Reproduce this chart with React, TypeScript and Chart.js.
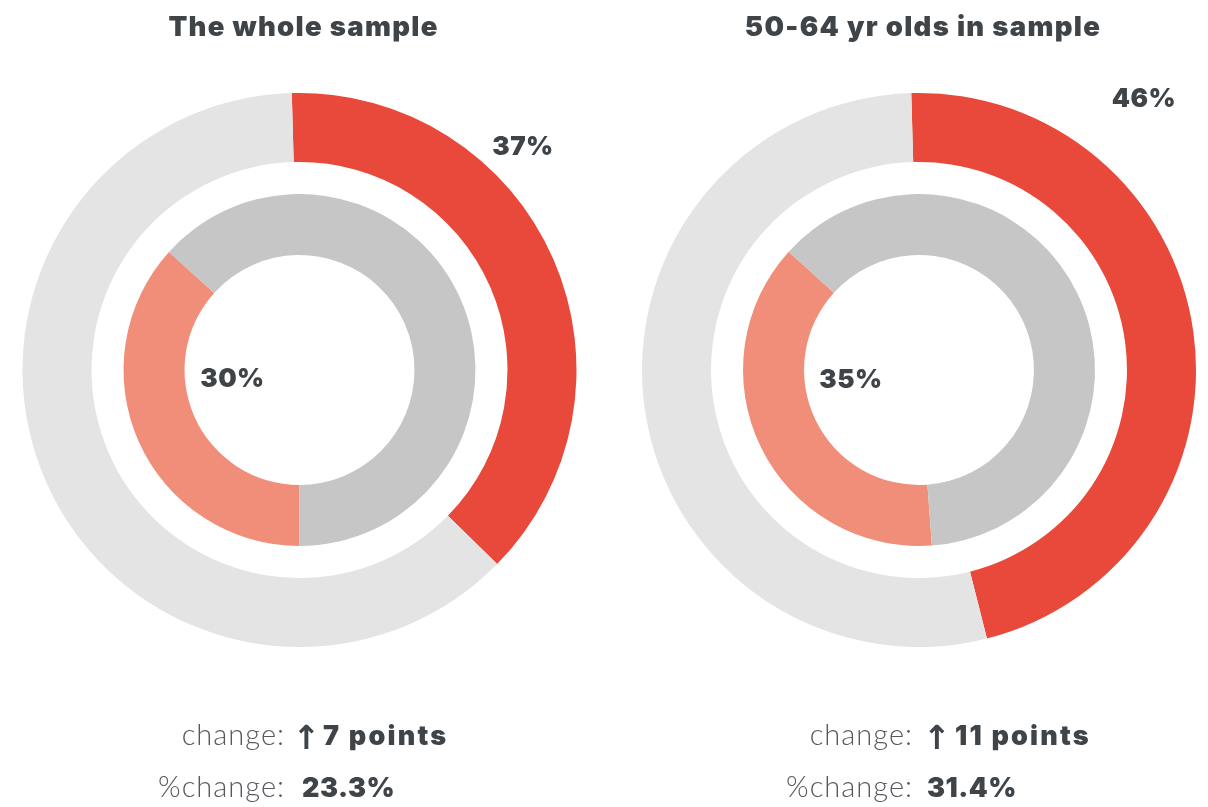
import React, { useEffect, useRef } from "react";
import { Chart, registerables } from "chart.js";

Chart.register(...registerables);

// ---- data ----
const titles = ["The whole sample", "50-64 yr olds in sample"];
const currentPct = [37, 46]; // outer ring labels
const previousPct = [30, 35]; // inner ring labels
const outerArcPct = [37.8, 46.5]; // red outer arc as drawn
const innerArcPct = [36.7, 37.9]; // salmon inner arc as drawn
const changePoints = [7, 11];
const pctChange = ["23.3%", "31.4%"];

// ---- style / layout ----
const RED = "#e8493a";
const LIGHT = "#e4e4e4";
const SALMON = "#f08e79";
const MID = "#c6c6c6";
const TEXT = "#3f4449";
const LABEL = "#55595d";
const W = 604;
const H = 807;
const centers = [299.5, 919];
const CY = 370;
const outerStart = [-1.6, -1.6];
const innerStart = [180, 175.8];
const layoutX = [
  { colon: -14.5, arrow: -7, value: 23.5, pct: 2.5, title: 4, outerLbl: [223.5, -215], innerLbl: [-67, 17] },
  { colon: -6, arrow: 4, value: 36, pct: 8, title: 4, outerLbl: [225, -263], innerLbl: [-68, 18] },
];

function makeTextPlugin(i: number) {
  return {
    id: "texts" + i,
    afterDraw(chart: any) {
      const ctx = chart.ctx as any;
      const arc = chart.getDatasetMeta(0).data[0] as any;
      const cx = arc.x;
      const cy = arc.y;
      const L = layoutX[i];
      ctx.save();
      ctx.fillStyle = TEXT;
      ctx.textBaseline = "alphabetic";
      // title
      ctx.letterSpacing = "1.3px";
      ctx.font = "900 27.5px Inter, Lato, sans-serif";
      ctx.textAlign = "center";
      ctx.fillText(titles[i], cx + L.title, 36);
      // ring labels
      ctx.letterSpacing = "0.5px";
      ctx.font = "900 26px Inter, Lato, sans-serif";
      ctx.fillText(currentPct[i] + "%", cx + L.outerLbl[0], cy + L.outerLbl[1]);
      ctx.fillText(previousPct[i] + "%", cx + L.innerLbl[0], cy + L.innerLbl[1]);
      // change rows
      ctx.textAlign = "right";
      ctx.fillStyle = LABEL;
      ctx.letterSpacing = "1px";
      ctx.font = "300 29px Lato, sans-serif";
      ctx.fillText("change:", cx + L.colon, 745);
      ctx.fillText("%change:", cx + L.colon, 797);
      ctx.textAlign = "left";
      ctx.fillStyle = TEXT;
      ctx.letterSpacing = "0px";
      ctx.font = "700 33px 'DejaVu Sans', sans-serif";
      ctx.fillText("\u2191", cx + L.arrow, 749);
      ctx.letterSpacing = "2.2px";
      ctx.font = "900 27px Inter, Lato, sans-serif";
      ctx.fillText(changePoints[i] + " points", cx + L.value, 745);
      ctx.letterSpacing = "0.5px";
      ctx.fillText(pctChange[i], cx + L.pct, 797);
      ctx.restore();
    },
  };
}

function Panel({ i }: { i: number }) {
  const ref = useRef<HTMLCanvasElement>(null);
  useEffect(() => {
    const canvas = ref.current!;
    const cx = centers[i] - i * W;
    const half = 282;
    const chart = new Chart(canvas, {
      type: "doughnut",
      data: {
        labels: ["current", "rest"],
        datasets: [
          {
            data: [outerArcPct[i], 100 - outerArcPct[i]],
            backgroundColor: [RED, LIGHT],
            rotation: outerStart[i],
            weight: 69,
            borderWidth: 0,
          } as any,
          {
            data: [1],
            backgroundColor: ["rgba(0,0,0,0)"],
            weight: 32,
            borderWidth: 0,
          } as any,
          {
            data: [innerArcPct[i], 100 - innerArcPct[i]],
            backgroundColor: [SALMON, MID],
            rotation: innerStart[i],
            weight: 61,
            borderWidth: 0,
          } as any,
        ],
      },
      options: {
        responsive: false,
        animation: false,
        radius: 277,
        cutout: "41.5%",
        events: [],
        layout: {
          padding: { left: cx - half, right: W - cx - half, top: CY - half, bottom: H - CY - half },
        },
        plugins: { legend: { display: false }, tooltip: { enabled: false }, title: { display: false } },
      } as any,
      plugins: [makeTextPlugin(i)],
    });
    return () => chart.destroy();
  }, [i]);
  return (
    <canvas
      ref={ref}
      width={W}
      height={H}
      style={{ position: "absolute", left: i * W, top: 0, width: W, height: H }}
    />
  );
}

export default function App() {
  return (
    <div style={{ position: "fixed", left: 0, top: 0, width: 1208, height: 807, background: "#fff" }}>
      <Panel i={0} />
      <Panel i={1} />
    </div>
  );
}
